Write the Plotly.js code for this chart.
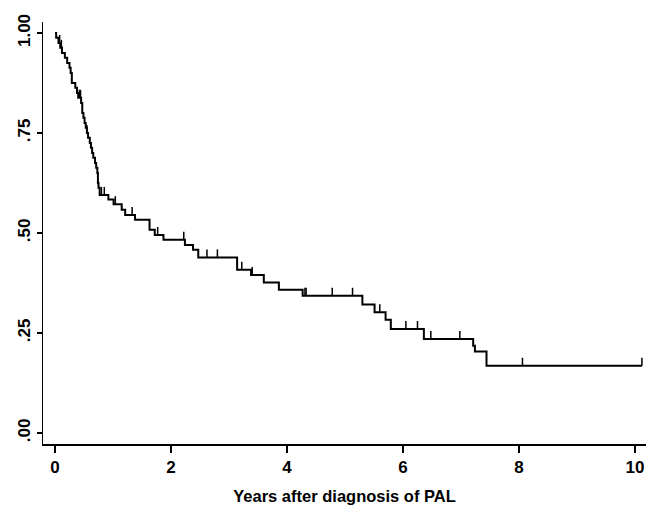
<!DOCTYPE html>
<html>
<head>
<meta charset="utf-8">
<script src="https://cdn.plot.ly/plotly-3.0.1.min.js"></script>
<style>html,body{margin:0;padding:0;background:#fff;}#chart{width:648px;height:511px;}</style>
</head>
<body>
<div id="chart"></div>
<script>
// Kaplan-Meier step times (years) and survival after each step
var stepTimes = [0, 0.02, 0.06, 0.09, 0.12, 0.17, 0.21, 0.25, 0.27, 0.29, 0.35, 0.38, 0.40, 0.45, 0.47, 0.49, 0.51, 0.53, 0.55, 0.57, 0.60, 0.62, 0.64, 0.66, 0.69, 0.71, 0.73, 0.74, 0.75, 0.77,
  0.92, 1.01, 1.15, 1.21, 1.38, 1.63, 1.72, 1.87, 2.24, 2.38, 2.47, 3.14, 3.38, 3.60, 3.86, 4.27,
  5.30, 5.51, 5.70, 5.79, 6.36, 7.21, 7.24, 7.44, 10.12];
var survival = [1.0, 0.988, 0.975, 0.963, 0.95, 0.938, 0.925, 0.913, 0.90, 0.875, 0.863, 0.85, 0.838, 0.825, 0.80, 0.788, 0.775, 0.763, 0.75, 0.738, 0.725, 0.713, 0.70, 0.688, 0.675, 0.663, 0.65, 0.625, 0.613, 0.595,
  0.584, 0.572, 0.558, 0.545, 0.533, 0.508, 0.495, 0.483, 0.47, 0.458, 0.439, 0.408, 0.395, 0.376, 0.358, 0.343,
  0.321, 0.302, 0.283, 0.26, 0.235, 0.218, 0.204, 0.168, 0.168];
// censored observations (years)
var censorTimes = [0.08, 0.11, 0.42, 0.44, 0.55, 0.80, 0.85, 1.04, 1.33, 1.77, 2.22, 2.62, 2.80, 3.22, 3.40, 4.31, 4.33, 4.78, 5.13, 5.60, 6.05, 6.25, 6.48, 6.98, 8.06, 10.12];
var xTickVals = [0, 2, 4, 6, 8, 10];
var yTickVals = [0, 0.25, 0.5, 0.75, 1];
var yTickText = ['.00', '.25', '.50', '.75', '1.00'];
var xTitle = 'Years after diagnosis of PAL';

function survAt(t) {
  var s = survival[0];
  for (var i = 0; i < stepTimes.length; i++) { if (stepTimes[i] <= t) s = survival[i]; }
  return s;
}
var censorS = censorTimes.map(survAt);

var traces = [
  {x: stepTimes, y: survival, type: 'scatter', mode: 'lines', line: {shape: 'hv', color: '#000', width: 2}, hoverinfo: 'skip'},
  {x: censorTimes, y: censorS, type: 'scatter', mode: 'markers', marker: {size: 1, color: 'rgba(0,0,0,0)'},
   error_y: {type: 'constant', symmetric: false, value: 0.02, valueminus: 0, width: 0, thickness: 1.5, color: '#000'}, hoverinfo: 'skip'}
];
var fontFam = '"Liberation Sans", Arial, Helvetica, sans-serif';
var layout = {
  width: 648, height: 511,
  margin: {l: 43, r: 2, t: 22, b: 67},
  paper_bgcolor: '#fff', plot_bgcolor: '#fff',
  showlegend: false,
  font: {family: fontFam, color: '#000'},
  xaxis: {
    range: [-0.207, 10.19], tickvals: xTickVals, ticks: 'outside', ticklen: 7, tickwidth: 1.5, tickcolor: '#000',
    showline: true, linecolor: '#000', linewidth: 1.5, showgrid: false, zeroline: false,
    tickfont: {size: 17, family: fontFam, weight: 'bold'},
    title: {text: xTitle, font: {size: 16.5, family: fontFam, weight: 'bold'}, standoff: 14}
  },
  yaxis: {
    range: [-0.0275, 1.0275], tickvals: yTickVals, ticktext: yTickText, ticks: 'outside', ticklen: 5, tickwidth: 1.5, tickcolor: '#000',
    showline: true, linecolor: '#000', linewidth: 1.5, showgrid: false, zeroline: false, tickangle: -90,
    tickfont: {size: 17, family: fontFam, weight: 'bold'}
  }
};
Plotly.newPlot('chart', traces, layout, {displayModeBar: false, staticPlot: true});
</script>
</body>
</html>
